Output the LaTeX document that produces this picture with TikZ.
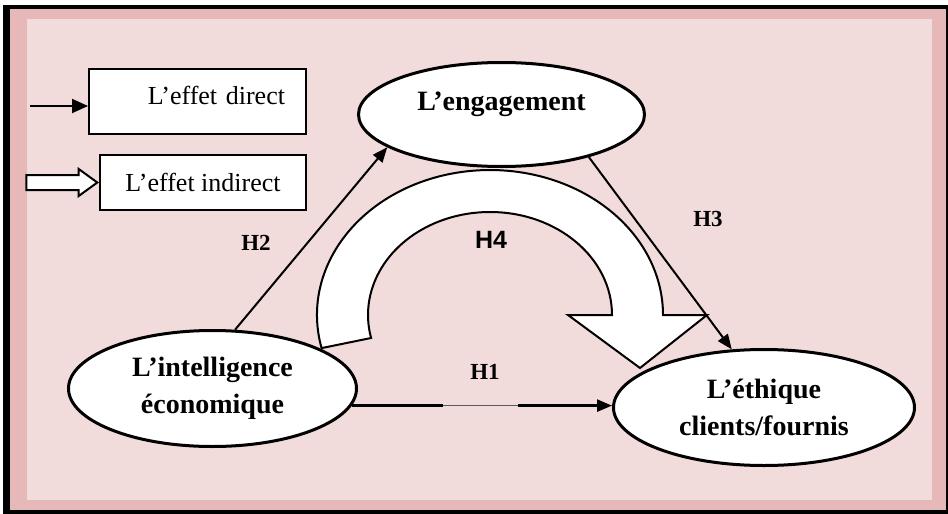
\documentclass[tikz,border=0pt]{standalone}
\usepackage{fontspec}
\setmainfont{Liberation Serif}
\setsansfont{Liberation Sans}
\usetikzlibrary{%
    arrows.meta,
    calc,
    positioning,
    shapes.arrows,
    shapes.geometric
}
\definecolor{framepink}{HTML}{E6B9B8}
\definecolor{panelpink}{HTML}{F2DCDB}

\begin{document}
\begin{tikzpicture}[x=1pt, y=-1pt,
    concept/.style={ellipse, draw, line width=3pt, fill=white,
                    align=center, inner sep=0pt,
                    font=\fontsize{28}{37}\selectfont\bfseries},
    legbox/.style={draw, line width=2pt, fill=white, inner sep=0pt,
                   font=\fontsize{26}{30}\selectfont},
    direct/.style={line width=2pt, -{Triangle[length=15pt, width=12pt]}},
    hollow/.style={single arrow, draw, line width=2pt, fill=white,
                   inner xsep=0pt, inner ysep=6.5pt,
                   single arrow head extend=6pt, single arrow tip angle=72,
                   minimum height=71pt},
    hlabel/.style={font=\fontsize{23}{26}\selectfont\bfseries},
   ]
    \useasboundingbox (0,0) rectangle (948,514);

    % frame
    \fill[black]      (3,5)   rectangle (948,514);
    \fill[framepink]  (10,9)  rectangle (946,510);
    \fill[panelpink]  (27,19) rectangle (932,500);

    % legend
    \node[legbox, minimum width=217pt, minimum height=65pt,
          text width=175pt, align=right, text depth=12pt]
          (legdirect) at (197.5,101.5) {L’effet direct};
    \node[legbox, minimum width=206pt, minimum height=55pt]
          (legindirect) at (203,182.5) {L’effet indirect};
    \coordinate (dirtail) at (30,106);
    \draw[direct, -{Triangle[length=16pt, width=14pt]}]
        (dirtail) -- (dirtail -| legdirect.west);
    \node[hollow, anchor=tip] (indirarrow) at (legindirect.west) {};

    % indirect effect H4
    \coordinate (bigc) at (490,315);
    \draw[line width=2pt, fill=white]
        ([shift={(193.2:173pt and 145pt)}]bigc)
        arc[start angle=193.2, end angle=0, x radius=173pt, y radius=145pt]
        -- (707,315) -- (640,368) -- (568,315) -- (612,315)
        arc[start angle=0, end angle=192.9, x radius=122pt, y radius=103pt]
        -- cycle;

    % concepts
    \node[concept, minimum width=286pt, minimum height=104pt, text depth=27pt]
          (engage) at (501.5,114.5) {L’engagement};
    \node[concept, minimum width=288pt, minimum height=116pt]
          (intel) at (212.5,388.5) {L’intelligence\\économique};
    \node[concept, minimum width=301pt, minimum height=116pt]
          (ethique) at (764,407.5) {L’éthique\\clients/fournis};

    % direct effects
    \draw[direct] (intel.69) -- (engage.196.4);
    \draw[direct] (engage.334.8) -- (ethique.119.5);
    \draw[line width=0.8pt, black!65] (intel.353) -- (intel.353 -| ethique.west);
    \draw[direct, line width=2.5pt, dash pattern=on 91pt off 75pt on 300pt]
        (intel.353) -- (intel.353 -| ethique.west);

    \foreach \Name/\Pos/\Text in {h1/{485,372}/H1, h2/{256,243}/H2,
                                  h3/{708,219}/H3}
        \node[hlabel] (\Name) at (\Pos) {\Text};
    \node[hlabel, font=\fontsize{25}{28}\selectfont\sffamily\bfseries]
          (h4) at (491,240) {H4};
\end{tikzpicture}
\end{document}
